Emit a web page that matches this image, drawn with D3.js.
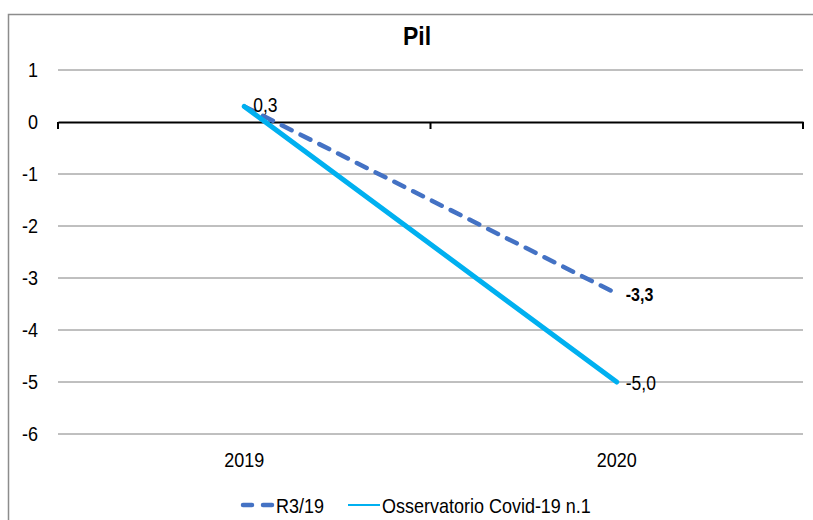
<!DOCTYPE html>
<html>
<head>
<meta charset="utf-8">
<script src="https://cdn.jsdelivr.net/npm/d3@7"></script>
<style>
  body { margin: 0; background: #fff; }
  svg { display: block; font-family: "Liberation Sans", Arial, sans-serif; }
</style>
</head>
<body>
<svg id="chart" width="813" height="520"></svg>
<script>
const years = ["2019", "2020"];
const r319 = [0.3, -3.3];
const covid = [0.3, -5.0];
const r319Labels = ["", "-3,3"];
const covidLabels = ["0,3", "-5,0"];
const yTicks = [1, 0, -1, -2, -3, -4, -5, -6];
const seriesNames = ["R3/19", "Osservatorio Covid-19 n.1"];

const svg = d3.select("#chart");
const left = 58, right = 803;
const stretch = 1.15; // text in the source is a bit taller than plain Arial

// put a text at (x,y) with a slight vertical stretch
const place = (px, py) => "translate(" + px + "," + py + ") scale(1," + stretch + ")";

// chart frame (runs off the right/bottom of the picture)
svg.append("rect")
  .attr("x", 8.5).attr("y", 14.5)
  .attr("width", 900).attr("height", 600)
  .attr("fill", "none").attr("stroke", "#8c8c8c").attr("stroke-width", 1.5);

svg.append("text")
  .attr("transform", place(417, 45))
  .attr("text-anchor", "middle")
  .attr("font-size", 23).attr("font-weight", "bold")
  .text("Pil");

const x = d3.scaleBand().domain(years).range([left, right]).padding(0);
const y = d3.scaleLinear().domain([-6, 1]).range([434, 70]);

// gridlines
svg.append("g")
  .selectAll("line")
  .data(yTicks.filter(d => d !== 0))
  .enter()
  .append("line")
  .attr("x1", left).attr("x2", right)
  .attr("y1", d => y(d)).attr("y2", d => y(d))
  .attr("stroke", "#808080").attr("stroke-width", 1);

// y labels
svg.append("g")
  .selectAll("text")
  .data(yTicks)
  .enter()
  .append("text")
  .attr("transform", d => place(38, y(d) + 7))
  .attr("text-anchor", "end")
  .attr("font-size", 18)
  .text(d => d);

// zero axis with category ticks
const xAxis = svg.append("g")
  .attr("transform", "translate(0," + y(0) + ")")
  .call(d3.axisBottom(x).tickSize(0).tickFormat(""));
xAxis.select(".domain").attr("stroke", "#000").attr("stroke-width", 2);
xAxis.selectAll(".edge")
  .data([left, left + x.bandwidth(), right])
  .enter()
  .append("line")
  .attr("class", "edge")
  .attr("x1", d => d).attr("x2", d => d)
  .attr("y1", 0).attr("y2", 7)
  .attr("stroke", "#000").attr("stroke-width", 2);

// category labels
svg.append("g")
  .selectAll("text")
  .data(years)
  .enter()
  .append("text")
  .attr("transform", d => place(x(d) + x.bandwidth() / 2, 467))
  .attr("text-anchor", "middle")
  .attr("font-size", 18)
  .text(d => d);

const cx = d => x(d) + x.bandwidth() / 2;
const line = d3.line().x(d => cx(d.year)).y(d => y(d.v));

const covidPts = years.map((yr, i) => ({ year: yr, v: covid[i] }));
const r319Pts = years.map((yr, i) => ({ year: yr, v: r319[i] }));

svg.append("path")
  .datum(r319Pts)
  .attr("d", line)
  .attr("fill", "none")
  .attr("stroke", "#4472C4").attr("stroke-width", 4.5)
  .attr("stroke-linecap", "round")
  .attr("stroke-dasharray", "11,10");

svg.append("path")
  .datum(covidPts)
  .attr("d", line)
  .attr("fill", "none")
  .attr("stroke", "#00B0F0").attr("stroke-width", 5)
  .attr("stroke-linecap", "round");

// data labels
svg.append("text")
  .attr("transform", place(cx(years[0]) + 9, y(covid[0]) + 6))
  .attr("font-size", 17.5)
  .text(covidLabels[0]);
svg.append("text")
  .attr("transform", place(cx(years[1]) + 9, y(covid[1]) + 8))
  .attr("font-size", 17.5)
  .text(covidLabels[1]);
svg.append("text")
  .attr("transform", place(cx(years[1]) + 9, y(r319[1]) + 7))
  .attr("font-size", 16).attr("font-weight", "bold")
  .text(r319Labels[1]);

// legend
const lg = svg.append("g");
lg.append("line")
  .attr("x1", 243).attr("x2", 273).attr("y1", 505).attr("y2", 505)
  .attr("stroke", "#4472C4").attr("stroke-width", 4.5)
  .attr("stroke-linecap", "round").attr("stroke-dasharray", "9,11");
lg.append("text").attr("transform", place(276, 513)).attr("font-size", 18).text(seriesNames[0]);
lg.append("line")
  .attr("x1", 348).attr("x2", 380).attr("y1", 505).attr("y2", 505)
  .attr("stroke", "#00B0F0").attr("stroke-width", 2);
lg.append("text").attr("transform", place(382, 513)).attr("font-size", 18).text(seriesNames[1]);
</script>
</body>
</html>
